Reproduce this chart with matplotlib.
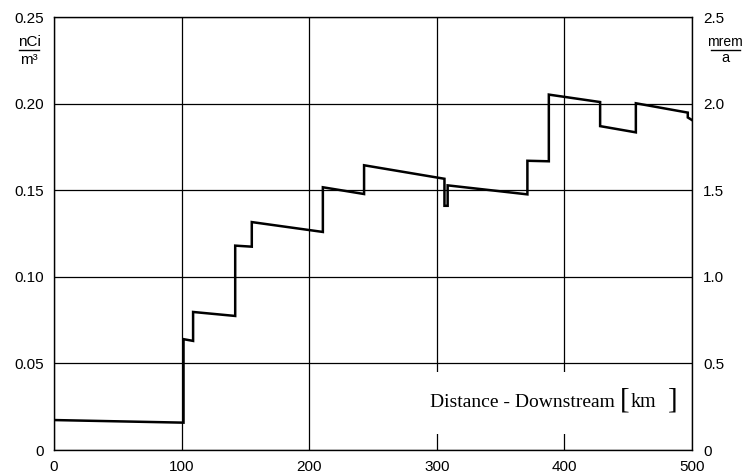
import matplotlib
matplotlib.use('Agg')
import matplotlib.pyplot as plt
from matplotlib.patches import Rectangle
from matplotlib.lines import Line2D

# distance downstream [km] and concentration [nCi/m3]
distance = [0, 101.5, 101.5, 109, 109, 142, 142, 155, 155, 210.7, 210.7,
            243, 243, 306, 306, 308.5, 308.5, 371, 371, 387.8, 387.8,
            428, 428, 456, 456, 496.7, 496.7, 500]
conc = [0.0173, 0.0158, 0.064, 0.063, 0.0797, 0.0774, 0.118, 0.1174,
        0.1316, 0.1259, 0.1517, 0.1478, 0.1644, 0.1566, 0.141, 0.141,
        0.1528, 0.1476, 0.167, 0.1667, 0.2052, 0.2009, 0.187, 0.1834,
        0.2002, 0.1948, 0.192, 0.1905]

x_ticks = [0, 100, 200, 300, 400, 500]
left_ticks = [0, 0.05, 0.10, 0.15, 0.20, 0.25]
left_labels = ['0', '0.05', '0.10', '0.15', '0.20', '0.25']
right_ticks = [0, 0.5, 1.0, 1.5, 2.0, 2.5]
right_labels = ['0', '0.5', '1.0', '1.5', '2.0', '2.5']

plt.rcParams['font.family'] = ['Liberation Sans', 'DejaVu Sans']
serif = ['Liberation Serif', 'DejaVu Serif']

fig = plt.figure(figsize=(7.44, 4.75), dpi=100)
ax = fig.add_axes([0.0726, 0.0526, 0.8575, 0.9116])

ax.plot(distance, conc, color='black', linewidth=1.8, zorder=4,
        solid_joinstyle='miter')

ax.set_xlim(0, 500)
ax.set_ylim(0, 0.25)
ax.set_xticks(x_ticks)
ax.set_yticks(left_ticks)
ax.set_yticklabels(left_labels)
ax.tick_params(length=0, labelsize=11)
ax.tick_params(axis='y', pad=7)
ax.tick_params(axis='x', pad=7)
ax.grid(True, color='black', linewidth=0.9, zorder=0)
ax.set_axisbelow(True)
for s in ax.spines.values():
    s.set_linewidth(1.0)

ax2 = ax.twinx()
ax2.set_ylim(0, 2.5)
ax2.set_yticks(right_ticks)
ax2.set_yticklabels(right_labels)
ax2.tick_params(length=0, labelsize=11, pad=8)
for s in ax2.spines.values():
    s.set_visible(False)

# white box behind the axis title
ax.add_patch(Rectangle((0.57, 0.038), 0.415, 0.142, transform=ax.transAxes,
                       facecolor='white', edgecolor='none', zorder=2))
ax.text(0.59, 0.110, 'Distance - Downstream', transform=ax.transAxes,
        family=serif, fontsize=14, ha='left', va='center', zorder=3)
ax.text(0.887, 0.114, '[', transform=ax.transAxes,
        family=serif, fontsize=21, ha='left', va='center', zorder=3)
ax.text(0.903, 0.110, 'km', transform=ax.transAxes,
        family=serif, fontsize=14.5, ha='left', va='center', zorder=3)
ax.text(0.962, 0.114, ']', transform=ax.transAxes,
        family=serif, fontsize=21, ha='left', va='center', zorder=3)

# unit fractions beside the top tick labels
fig.text(29 / 744, 1 - 42 / 475, 'nCi', ha='center', va='center', fontsize=11)
fig.add_artist(Line2D([19 / 744, 39 / 744], [1 - 50 / 475, 1 - 50 / 475],
                      color='black', linewidth=1.0))
fig.text(29 / 744, 1 - 60 / 475, 'm³', ha='center', va='center', fontsize=11)

fig.text(725 / 744, 1 - 42 / 475, 'mrem', ha='center', va='center', fontsize=10)
fig.add_artist(Line2D([711 / 744, 740 / 744], [1 - 50 / 475, 1 - 50 / 475],
                      color='black', linewidth=1.0))
fig.text(725 / 744, 1 - 58 / 475, 'a', ha='center', va='center', fontsize=10.5)

fig.savefig('out.png', dpi=100)
